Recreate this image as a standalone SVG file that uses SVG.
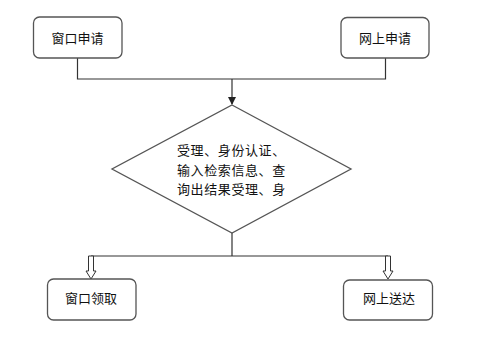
<svg xmlns="http://www.w3.org/2000/svg" width="500" height="346" viewBox="0 0 500 346">
<style>
.box{fill:#fff;stroke:#555;stroke-width:1.3}
.ln{fill:none;stroke:#333;stroke-width:1.2}
.hol{fill:#fff;stroke:#333;stroke-width:1}
text{font-family:"Noto Sans CJK SC","Liberation Sans",sans-serif;font-size:13px;fill:#111}
.c{text-anchor:middle;dominant-baseline:central}
</style>
<defs>
<marker id="ah" markerWidth="8" markerHeight="8" refX="7" refY="4" orient="auto" markerUnits="userSpaceOnUse">
<path d="M0,0 L8,4 L0,8 Z" fill="#222"/>
</marker>
</defs>
<rect width="500" height="346" fill="#fff"/>
<g id="connectors">
<path class="ln" d="M77.5,58 V79 H385.5 V58"/>
<path class="ln" d="M232,79 V104" marker-end="url(#ah)"/>
<path class="ln" d="M232,233 V256 M91,256 H388"/>
<polygon class="hol" points="88.5,256 93.5,256 93.5,271 96,271 91,279 86,271 88.5,271"/>
<polygon class="hol" points="385.5,256 390.5,256 390.5,271 393,271 388,279 383,271 385.5,271"/>
</g>
<g id="n1"><rect class="box" x="33.5" y="17" width="88.5" height="41" rx="6"/><text class="c" x="77.5" y="37">窗口申请</text></g>
<g id="n2"><rect class="box" x="341" y="17.5" width="88" height="40.5" rx="6"/><text class="c" x="385" y="37">网上申请</text></g>
<g id="n3"><polygon class="box" points="232,105 351,169 232,233 112,169"/>
<text x="177" y="155" style="letter-spacing:0.6px">受理、身份认证、</text>
<text x="177" y="175" style="letter-spacing:0.6px">输入检索信息、查</text>
<text x="177" y="194" style="letter-spacing:0.6px">询出结果受理、身</text></g>
<g id="n4"><rect class="box" x="47.5" y="279" width="88.5" height="41" rx="6"/><text class="c" x="91" y="297">窗口领取</text></g>
<g id="n5"><rect class="box" x="343.5" y="280" width="89" height="40" rx="6"/><text class="c" x="389" y="297">网上送达</text></g>
</svg>
